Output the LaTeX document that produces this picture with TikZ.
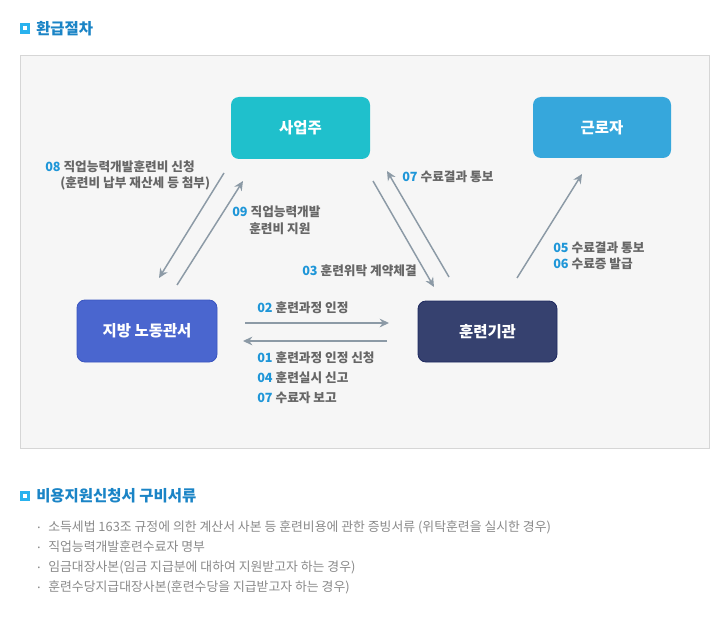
\documentclass[tikz,border=0pt]{standalone}
\usepackage{fontspec}
\setmainfont{Noto Sans CJK KR}
\usetikzlibrary{arrows.meta}
\definecolor{panelfill}{HTML}{F6F6F6}
\definecolor{paneldraw}{HTML}{D6D6D6}
\definecolor{cteal}{HTML}{1FC0CC}
\definecolor{csky}{HTML}{36A7DC}
\definecolor{croyal}{HTML}{4A66CF}
\definecolor{croyalb}{HTML}{3A55C0}
\definecolor{cnavy}{HTML}{36416F}
\definecolor{cnavyb}{HTML}{1F2A60}
\definecolor{arrowc}{HTML}{8C9AA6}
\definecolor{numblue}{HTML}{1E96D8}
\definecolor{lblgray}{HTML}{666666}
\definecolor{titleblue}{HTML}{1A84C6}
\definecolor{iconblue}{HTML}{29B2EE}
\definecolor{listgray}{HTML}{8A8A8A}
\newcommand\lnum[1]{\textcolor{numblue}{#1}}
\tikzset{
  actor/.style={rounded corners=6pt, inner sep=0pt, text=white,
    font=\fontsize{11.6pt}{14pt}\selectfont\bfseries},
  flow/.style={draw=arrowc, line width=1.1pt, -{Stealth[length=7pt,width=6.5pt]}},
  lbl/.style={anchor=west, inner sep=0pt, text=lblgray,
    font=\fontsize{9.5pt}{11pt}\selectfont\bfseries},
  ttl/.style={anchor=west, inner sep=0pt, text=titleblue,
    font=\fontsize{11.6pt}{13pt}\selectfont\bfseries},
  item/.style={anchor=west, inner sep=0pt, text=listgray,
    font=\fontsize{9.65pt}{11pt}\selectfont},
}
\begin{document}
\begin{tikzpicture}[x=0.75pt,y=-0.75pt]
\useasboundingbox[fill=white] (0,0) rectangle (710,627);

% section 1 title
\fill[iconblue] (20,23) rectangle (30,34);
\fill[white] (23,26.5) rectangle (27,30.5);
\node[ttl] (t1) at (36,28.5) {환급절차};

% panel
\draw[fill=panelfill, draw=paneldraw, line width=0.75pt] (20.5,55.5) rectangle (709,448);

% actors
\node[actor, fill=cteal, minimum width=104.25pt, minimum height=46.5pt] (sa) at (300.5,128) {사업주};
\node[actor, fill=csky, minimum width=103.5pt, minimum height=45.75pt] (gr) at (602,127.5) {근로자};
\node[actor, fill=croyal, draw=croyalb, line width=0.6pt, minimum width=105pt, minimum height=46.5pt] (jb) at (147,331) {지방 노동관서};
\node[actor, fill=cnavy, draw=cnavyb, line width=0.6pt, minimum width=104.25pt, minimum height=45.75pt] (hk) at (487.5,331.5) {훈련기관};

% connector end points
\coordinate (a08s) at (224,173);
\coordinate (a08e) at (159,278);
\coordinate (a09s) at (177,285);
\coordinate (a09e) at (243,181);
\coordinate (a03s) at (373,181);
\coordinate (a03e) at (434,287);
\coordinate (a07s) at (449,277);
\coordinate (a07e) at (387,171);
\coordinate (a05s) at (517,278);
\coordinate (a05e) at (582,174);
\coordinate (a02s) at (245,323);
\coordinate (a02e) at (389,323);
\coordinate (a01s) at (387,341);
\coordinate (a01e) at (243,341);

\draw[flow] (a08s) -- (a08e);
\draw[flow] (a09s) -- (a09e);
\draw[flow] (a03s) -- (a03e);
\draw[flow] (a07s) -- (a07e);
\draw[flow] (a05s) -- (a05e);
\draw[flow] (a02s) -- (a02e);
\draw[flow] (a01s) -- (a01e);

% labels
\node[lbl] (l08a) at (45,167) {\lnum{08} 직업능력개발훈련비 신청};
\node[lbl] (l08b) at (60,183) {(훈련비 납부 재산세 등 첨부)};
\node[lbl] (l09a) at (232,212) {\lnum{09} 직업능력개발};
\node[lbl] (l09b) at (249,229) {훈련비 지원};
\node[lbl] (l07t) at (402,177) {\lnum{07} 수료결과 통보};
\node[lbl] (l05) at (553,248) {\lnum{05} 수료결과 통보};
\node[lbl] (l06) at (553,264) {\lnum{06} 수료증 발급};
\node[lbl] (l03) at (302,271) {\lnum{03} 훈련위탁 계약체결};
\node[lbl] (l02) at (257,308) {\lnum{02} 훈련과정 인정};
\node[lbl] (l01) at (257,358) {\lnum{01} 훈련과정 인정 신청};
\node[lbl] (l04) at (257,378) {\lnum{04} 훈련실시 신고};
\node[lbl] (l07b) at (257,398) {\lnum{07} 수료자 보고};

% section 2 title
\fill[iconblue] (20,491) rectangle (30,501);
\fill[white] (23,494) rectangle (27,498);
\node[ttl] (t2) at (36,496) {비용지원신청서 구비서류};

% list
\node[item] (b1) at (35,530) {·};
\node[item] (i1) at (48,527) {소득세법 163조 규정에 의한 계산서 사본 등 훈련비용에 관한 증빙서류 (위탁훈련을 실시한 경우)};
\node[item] (b2) at (35,550) {·};
\node[item] (i2) at (48,547) {직업능력개발훈련수료자 명부};
\node[item] (b3) at (35,570) {·};
\node[item] (i3) at (48,567) {임금대장사본(임금 지급분에 대하여 지원받고자 하는 경우)};
\node[item] (b4) at (35,590) {·};
\node[item] (i4) at (48,587) {훈련수당지급대장사본(훈련수당을 지급받고자 하는 경우)};
\end{tikzpicture}
\end{document}
